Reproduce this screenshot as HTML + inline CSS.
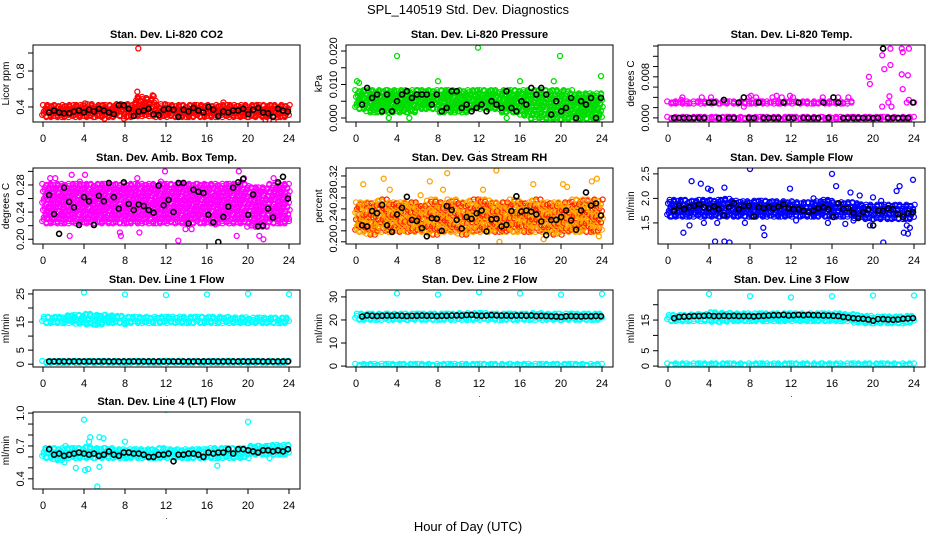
<!DOCTYPE html>
<html><head><meta charset="utf-8"><style>
html,body{margin:0;padding:0;background:#fff}
svg{display:block;font-family:"Liberation Sans",Arial,sans-serif}
</style></head><body>
<svg id="chart" width="936" height="540" viewBox="0 0 936 540">
<text x="468" y="14" text-anchor="middle" font-size="13">SPL_140519  Std. Dev. Diagnostics</text>
<text x="468" y="531" text-anchor="middle" font-size="13">Hour of Day (UTC)</text>
</svg>
<script>
// ---- data (hours 0..23 cloud bands, outliers [hour,value], black hourly means) ----
const co2BandLo=[0.30,0.30,0.30,0.30,0.30,0.30,0.30,0.31,0.30,0.31,0.31,0.30,0.30,0.30,0.30,0.30,0.30,0.30,0.30,0.30,0.30,0.30,0.30,0.30];
const co2BandHi=[0.41,0.41,0.41,0.41,0.42,0.41,0.41,0.42,0.42,0.50,0.48,0.42,0.41,0.41,0.41,0.41,0.41,0.41,0.41,0.41,0.41,0.41,0.41,0.41];
const co2Out=[[9.3,1.05],[9.2,0.57],[10.7,0.53],[10.8,0.52],[6,0.27],[22.5,0.25],[21.7,0.26],[17.6,0.45],[4.1,0.44],[7.9,0.27]];
const co2Blk=[0.34,0.36,0.34,0.33,0.33,0.35,0.36,0.34,0.37,0.35,0.38,0.36,0.34,0.32,0.42,0.42,0.38,0.30,0.35,0.36,0.38,0.32,0.31,0.37,0.38,0.37,0.29,0.37,0.35,0.39,0.36,0.34,0.40,0.37,0.30,0.35,0.34,0.36,0.36,0.38,0.32,0.37,0.39,0.34,0.33,0.29,0.38,0.36,0.35];

const presBandLo=[0.003,0.002,0.002,0.002,0.002,0.002,0.003,0.003,0.002,0.002,0.002,0.003,0.003,0.003,0.002,0.002,0.001,0,0,0,0,0,0,0];
const presBandHi=[0.008,0.008,0.008,0.008,0.008,0.008,0.008,0.008,0.008,0.008,0.008,0.008,0.008,0.008,0.008,0.008,0.008,0.008,0.008,0.008,0.008,0.007,0.007,0.007];
const presOut=[[0.1,0.011],[0.3,0.0105],[4,0.0185],[8,0.011],[11.9,0.021],[16,0.011],[19.3,0.011],[19.9,0.0185],[23.9,0.0125],[3.2,0],[5.2,0],[14.7,0]];
const presBlk=[0.004,0.009,0.006,0.007,0.002,0.007,0.002,0.005,0.007,0.008,0.006,0.007,0.007,0.007,0.004,0.007,0.002,0.003,0.008,0.008,0.003,0.004,0.002,0.003,0.004,0.002,0.005,0.004,0.003,0.008,0.003,0.002,0.005,0.004,0.009,0.007,0.009,0.007,0.001,0.005,0.002,0.003,0.006,0,0.005,0.004,0.006,0,0.006];

const tempBandLo=[0,0,0,0,0,0,0,0,0,0,0,0,0,0,0,0,0,0,0,0,0,0,0,0];
const tempBandHi=[0,0,0,0,0,0,0,0,0,0,0,0,0,0,0,0,0,0,0,0,0,0,0,0];
const tempBand2=[0.003,0.003,0.003,0.003,0.003,0.003,0.003,0.003,0.003,0.003,0.003,0.003,0.003,0.003,0.003,0.003,0.003,0.003,null,null,null,null,null,null];
const tempOut=[[0.5,0.003],[1.3,0.0035],[1.4,0.004],[3.3,0.004],[4.2,0.004],[7.4,0.0022],[7.9,0.004],[8.1,0.0043],[8.6,0.004],[10.2,0.004],[10.6,0.0043],[11.1,0.004],[11.9,0.0043],[12.2,0.004],[15.1,0.004],[16.6,0.004],[17.6,0.004],[19.6,0.008],[19.7,0.0066],[20.9,0.0122],[20.9,0.0022],[21.1,0.0095],[21.5,0.003],[21.6,0.0042],[21.7,0.0135],[21.7,0.0103],[21.8,0.0022],[22.8,0.0135],[22.9,0.0128],[22.8,0.0085],[22.9,0.0056],[23.3,0.003],[23.4,0.0083],[23.5,0.0135],[23.5,0.0035],[24,0.003]];
const tempBlk=[0,0,0,0,0,0,0,0.003,0.003,0,0.0035,0,0,0.003,0.004,0,0,0.003,0,0,0,0,0.003,0,0,0.003,0,0,0,0,0.003,0,0.004,0.003,0,0,0,0,0,0,0,0,0.0135,0,0,0,0,0,0.003];

const ambBandLo=[0.225,0.225,0.225,0.225,0.225,0.225,0.225,0.225,0.225,0.225,0.225,0.225,0.225,0.225,0.225,0.225,0.225,0.225,0.225,0.225,0.22,0.22,0.225,0.225];
const ambBandHi=[0.28,0.28,0.28,0.28,0.28,0.28,0.28,0.28,0.28,0.28,0.28,0.28,0.28,0.28,0.28,0.28,0.28,0.28,0.28,0.28,0.275,0.275,0.28,0.28];
const ambOut=[[0.7,0.29],[1.2,0.29],[2.6,0.205],[2.8,0.295],[4.1,0.295],[7.5,0.21],[7.6,0.205],[9.4,0.21],[9.2,0.29],[11.9,0.30],[13.2,0.198],[13.9,0.215],[14.5,0.215],[18.9,0.205],[19.1,0.30],[19.6,0.29],[21.1,0.205],[21.5,0.20],[22.5,0.29],[24,0.23],[11.5,0.285],[3.6,0.285],[0.4,0.23],[6.5,0.23],[16.8,0.222]];
const ambBlk=[0.265,0.237,0.208,0.276,0.255,0.247,0.221,0.262,0.256,0.221,0.264,0.256,0.283,0.262,0.245,0.284,0.252,0.243,0.251,0.249,0.243,0.239,0.279,0.25,0.258,0.24,0.283,0.283,0.223,0.273,0.27,0.268,0.236,0.225,0.196,0.233,0.248,0.276,0.284,0.289,0.236,0.266,0.219,0.22,0.245,0.232,0.284,0.292,0.26];

const rhBandLo=[0.22,0.215,0.22,0.22,0.22,0.22,0.22,0.215,0.22,0.22,0.215,0.22,0.22,0.22,0.22,0.22,0.22,0.22,0.22,0.215,0.22,0.22,0.22,0.22];
const rhBandHi=[0.27,0.27,0.275,0.27,0.27,0.27,0.265,0.275,0.27,0.275,0.27,0.275,0.275,0.27,0.27,0.275,0.27,0.275,0.27,0.27,0.27,0.275,0.275,0.275];
const rhOut=[[0.7,0.305],[2.7,0.315],[7.2,0.31],[8.9,0.325],[13.7,0.33],[14,0.2],[17.3,0.305],[18.3,0.205],[20.2,0.305],[20.6,0.3],[23,0.31],[23.5,0.315],[23.7,0.21],[8.5,0.295],[3.3,0.295],[12.4,0.295],[6.3,0.285]];
const rhBlk=[0.23,0.228,0.256,0.252,0.267,0.23,0.218,0.25,0.262,0.282,0.24,0.238,0.225,0.21,0.243,0.242,0.22,0.265,0.258,0.24,0.224,0.245,0.242,0.252,0.257,0.219,0.241,0.242,0.228,0.231,0.256,0.283,0.255,0.257,0.255,0.25,0.237,0.212,0.24,0.24,0.245,0.257,0.239,0.222,0.257,0.29,0.266,0.27,0.248];

const flowBandLo=[1.65,1.65,1.65,1.65,1.65,1.65,1.65,1.65,1.65,1.65,1.65,1.65,1.65,1.65,1.65,1.65,1.65,1.65,1.62,1.6,1.6,1.6,1.6,1.6];
const flowBandHi=[1.95,1.95,1.93,1.95,1.95,1.97,1.93,1.92,1.93,1.93,1.92,1.92,1.9,1.9,1.92,1.95,1.9,1.9,1.88,1.85,1.85,1.85,1.85,1.85];
const flowOut=[[0.2,1.63],[1.5,1.3],[2.1,1.45],[2.3,2.35],[3.2,2.3],[3.9,2.2],[4.2,2.17],[4.6,1.12],[4.8,1.5],[5.5,2.22],[5.5,1.12],[6,1.1],[7.5,1.5],[8,2.6],[9.3,1.4],[9.4,1.25],[11.9,2.2],[12.5,1.55],[14.2,2.0],[15.6,1.5],[16,2.5],[16.4,2.25],[17.3,1.48],[17.8,2.12],[18.1,1.55],[18.7,2.06],[19.7,1.45],[20,2.02],[20.8,1.95],[21,1.1],[22.3,2.15],[22.6,2.25],[23,1.3],[23.3,1.45],[23.4,1.28],[23.6,1.4],[23.9,2.38],[3.5,1.5]];
const flowBlk=[1.75,1.85,1.78,1.82,1.85,1.88,1.82,1.80,1.84,1.78,1.65,1.82,1.9,1.78,1.85,1.85,1.63,1.82,1.8,1.82,1.8,1.83,1.88,1.80,1.78,1.78,1.75,1.72,1.75,1.80,1.82,1.78,1.62,1.9,1.78,1.8,1.7,1.6,1.72,1.78,1.45,1.75,1.74,1.8,1.78,1.68,1.62,1.7,1.72];

const l1BandLo=[15,15,15,14.8,14.5,14.5,15,15,15,15,15,15,15,15,15,15,15,15,15,15,15,15,15,15];
const l1BandHi=[16.5,16.5,17,17.2,17.5,17.2,17,16.8,16.5,16.5,16.5,16.5,16.5,16.5,16.5,16.5,16.5,16.5,16.3,16.3,16.2,16.2,16.2,16.2];
const l1Band2=[0.8,0.8,0.8,0.8,0.8,0.8,0.8,0.8,0.8,0.8,0.8,0.8,0.8,0.8,0.8,0.8,0.8,0.8,0.8,0.8,0.8,0.8,0.8,0.8];
const l1Out=[[4,25.5],[8,24.8],[12,24.6],[16,24.8],[20,25],[24,24.9],[5.2,14],[8,14.2]];
const l1Blk=[1,1,1,1,1,1,1,1,1,1,1,1,1,1,1,1,1,1,1,1,1,1,1,1,1,1,1,1,1,1,1,1,1,1,1,1,1,1,1,1,1,1,1,1,1,1,1,1,1];

const l2BandLo=[20.5,20.5,20.5,20.5,20.5,20.5,20.5,20.5,20.5,20.5,20.5,20.5,20.5,20.5,20.5,20.5,20.5,20.5,20.5,20.5,20.5,20.5,20.5,20.5];
const l2BandHi=[22.3,22.3,22.3,22.3,22.3,22.3,22.3,22.3,22.3,22.3,22.5,22.5,22.5,22.3,22.3,22.3,22.3,22.5,22.3,22.3,22.3,22.3,22.3,22.3];
const l2Band2=[0.5,0.5,0.5,0.5,0.5,0.5,0.5,0.5,0.5,0.5,0.5,0.5,0.5,0.5,0.5,0.5,0.5,0.5,0.5,0.5,0.5,0.5,0.5,0.5];
const l2Out=[[4,31.5],[8,31],[12,32],[16,31.5],[20,31],[24,31.3]];
const l2Blk=[21.5,22,21.8,21.7,21.8,21.9,21.8,21.9,21.8,21.7,21.8,21.8,21.9,21.8,21.8,21.7,21.8,21.8,21.9,22,21.9,22.1,22.2,22,21.8,21.9,22.1,22,21.9,21.9,21.8,21.9,21.9,21.8,22,21.7,21.8,21.7,21.6,21.5,21.3,21.6,21.7,21.6,21.5,21.6,21.6,21.7,21.6];

const l3BandLo=[15,15,15,15,14.8,14.8,15,15,15,15,15,15,15,15,15,15,15,15,14.5,14.3,14.3,14.3,14.3,14.5];
const l3BandHi=[16.3,16.3,16.5,16.6,17.2,17,16.8,16.8,16.8,16.8,16.8,16.8,16.8,16.8,16.8,16.8,16.8,16.6,16.3,16,15.8,15.8,15.8,16];
const l3Band2=[0.5,0.5,0.5,0.5,0.5,0.5,0.5,0.5,0.5,0.5,0.5,0.5,0.5,0.5,0.5,0.5,0.5,0.5,0.5,0.5,0.5,0.5,0.5,0.5];
const l3Out=[[4,23.5],[8,22.8],[12,22.4],[16,22.8],[20,23],[24,23]];
const l3Blk=[15.6,16,16.1,16.2,16.3,16.3,16.4,16.5,16.3,16.3,16.4,16.3,16.4,16.3,16.3,16.3,16.2,16.3,16.4,16.5,16.6,16.6,16.7,16.5,16.6,16.7,16.6,16.7,16.6,16.6,16.5,16.5,16.4,16.3,16,15.8,15.6,15.5,15.4,15.2,14.8,15.3,15.3,15.2,15.1,15.2,15.4,15.5,15.6];

const l4BandLo=[0.6,0.58,0.6,0.6,0.6,0.6,0.6,0.6,0.6,0.6,0.6,0.6,0.6,0.6,0.6,0.6,0.6,0.6,0.6,0.6,0.63,0.63,0.63,0.63];
const l4BandHi=[0.67,0.67,0.67,0.67,0.68,0.67,0.67,0.66,0.66,0.66,0.66,0.67,0.66,0.66,0.66,0.66,0.67,0.67,0.67,0.67,0.69,0.69,0.7,0.7];
const l4Out=[[4,0.94],[4.6,0.78],[4.5,0.74],[5.5,0.78],[5.9,0.77],[5.3,0.33],[3.2,0.5],[4.1,0.48],[4.4,0.49],[5.5,0.51],[8,0.74],[12,1.03],[20,0.92],[17,0.52],[2.2,0.7],[22.1,0.59],[2.1,0.55]];
const l4Blk=[0.67,0.62,0.63,0.61,0.62,0.63,0.64,0.63,0.62,0.63,0.61,0.62,0.65,0.62,0.61,0.64,0.64,0.63,0.63,0.62,0.60,0.60,0.62,0.62,0.63,0.56,0.62,0.62,0.63,0.63,0.62,0.60,0.64,0.63,0.64,0.64,0.67,0.63,0.67,0.67,0.66,0.65,0.64,0.66,0.66,0.65,0.66,0.65,0.67];

const xTicks=[0,4,8,12,16,20,24];

// ---- layout ----
const NS='http://www.w3.org/2000/svg';
const svg=document.getElementById('chart');
const colX0=[43,356,668];
const rowTop=[45,168,290,412], rowBot=[122,244,367,489];
function mk(tag,attrs,parent){const e=document.createElementNS(NS,tag);for(const k in attrs)e.setAttribute(k,attrs[k]);(parent||svg).appendChild(e);return e;}

const panels=[
 {key:'co2',title:'Stan. Dev. Li-820 CO2',yl:'Licor ppm',r:0,c:0,ymin:0.233,ymax:1.089,ticks:[0.4,0.6,0.8,1.0],labels:['0.4','','0.8',''],col:'#ff0000',bands:[[co2BandLo,co2BandHi]],out:co2Out,blk:co2Blk},
 {key:'pressure',title:'Stan. Dev. Li-820 Pressure',yl:'kPa',r:0,c:1,ymin:-0.0012,ymax:0.0218,ticks:[0,0.005,0.01,0.015,0.02],labels:['0.000','','0.010','','0.020'],col:'#00dd00',bands:[[presBandLo,presBandHi]],out:presOut,blk:presBlk},
 {key:'temp',title:'Stan. Dev. Li-820 Temp.',yl:'degrees C',r:0,c:2,ymin:-0.0008,ymax:0.0142,ticks:[0,0.002,0.004,0.006,0.008,0.01,0.012,0.014],labels:['0.000','','','','0.008','','',''],col:'#ff00ff',bands:[[tempBandLo,tempBandHi],[tempBand2,tempBand2]],out:tempOut,blk:tempBlk},
 {key:'amb',title:'Stan. Dev. Amb. Box Temp.',yl:'degrees C',r:1,c:0,ymin:0.193,ymax:0.305,ticks:[0.2,0.22,0.24,0.26,0.28,0.3],labels:['0.20','','0.24','','0.28',''],col:'#ff00ff',bands:[[ambBandLo,ambBandHi]],out:ambOut,blk:ambBlk},
 {key:'rh',title:'Stan. Dev. Gas Stream RH',yl:'percent',r:1,c:1,ymin:0.196,ymax:0.3345,ticks:[0.2,0.22,0.24,0.26,0.28,0.3,0.32],labels:['0.20','','0.24','','0.28','','0.32'],col:'#ffa500',col2:'#ff2000',bands:[[rhBandLo,rhBandHi]],out:rhOut,blk:rhBlk},
 {key:'sample-flow',title:'Stan. Dev. Sample Flow',yl:'ml/min',r:1,c:2,ymin:1.07,ymax:2.62,ticks:[1.5,2.0,2.5],labels:['1.5','2.0','2.5'],col:'#0000ff',bands:[[flowBandLo,flowBandHi]],out:flowOut,blk:flowBlk},
 {key:'line1',title:'Stan. Dev. Line 1 Flow',yl:'ml/min',r:2,c:0,ymin:-1,ymax:26.4,ticks:[0,5,10,15,20,25],labels:['0','5','','15','','25'],col:'#00ffff',bands:[[l1BandLo,l1BandHi],[l1Band2,l1Band2]],out:l1Out,blk:l1Blk},
 {key:'line2',title:'Stan. Dev. Line 2 Flow',yl:'ml/min',r:2,c:1,ymin:-0.4,ymax:33,ticks:[0,10,20,30],labels:['0','10','20','30'],col:'#00ffff',bands:[[l2BandLo,l2BandHi],[l2Band2,l2Band2]],out:l2Out,blk:l2Blk},
 {key:'line3',title:'Stan. Dev. Line 3 Flow',yl:'ml/min',r:2,c:2,ymin:-0.3,ymax:24.8,ticks:[0,5,10,15,20],labels:['0','5','','15',''],col:'#00ffff',bands:[[l3BandLo,l3BandHi],[l3Band2,l3Band2]],out:l3Out,blk:l3Blk},
 {key:'line4',title:'Stan. Dev. Line 4 (LT) Flow',yl:'ml/min',r:3,c:0,ymin:0.307,ymax:1.01,ticks:[0.4,0.5,0.6,0.7,0.8,0.9,1.0],labels:['0.4','','','0.7','','','1.0'],col:'#00ffff',bands:[[l4BandLo,l4BandHi]],out:l4Out,blk:l4Blk}
];

function circle(g,x,y,col,name,sw){
  const c=mk('circle',{cx:x.toFixed(1),cy:y.toFixed(1),r:2.5,fill:'none',stroke:col,'stroke-width':sw||1.3},g);
  
  
}

panels.forEach(p=>{
  const x0=colX0[p.c], top=rowTop[p.r], bot=rowBot[p.r];
  const L=x0-10, R=x0+257;
  const xs=h=>x0+h*(246/24);
  const ys=v=>bot-(v-p.ymin)/(p.ymax-p.ymin)*(bot-top);
  const g=mk('g',{});
  
  
  const t=mk('text',{x:(L+R)/2,y:top-7,'text-anchor':'middle','font-size':11,'font-weight':'bold'},g);
  t.textContent=p.title;
  
  
  const clip=mk('clipPath',{id:'clip-'+p.key},g);
  mk('rect',{x:L,y:top,width:R-L,height:bot-top},clip);
  const pts=mk('g',{'clip-path':'url(#clip-'+p.key+')'},g);
  
  
  // cloud bands (textured columns of open circles)
  p.bands.forEach(([lo,hi])=>{
    for(let i=0;i<lo.length;i++){
      if(lo[i]===null||lo[i]===undefined)continue;
      const yTop=ys(hi[i]), yBot=ys(lo[i]);
      const n=Math.max(1,Math.round((yBot-yTop)/3.6)+1);
      for(let k=0;k<6;k++){
        const hx=i+k/6+0.08;
        for(let j=0;j<n;j++){
          const yy=n===1?yBot:yBot-(yBot-yTop)*j/(n-1);
          const dx=((j*7+k*3+i)%5-2)*0.8, dy=((j*3+k*5+i)%3-1)*1.1;
          circle(pts,xs(hx)+dx,yy+dy,(p.col2&&((j+k+i)%3===0))?p.col2:p.col,'cloud-point',1.2);
        }
      }
    }
  });
  p.out.forEach(([h,v])=>circle(pts,xs(h),ys(v),p.col,'outlier-point',1.3));
  p.blk.forEach((v,i)=>circle(pts,xs(0.6+i*23.3/(p.blk.length-1)),ys(v),'#000','hourly-mean-point',1.6));
  // box
  const box=mk('rect',{x:L,y:top,width:R-L,height:bot-top,fill:'none',stroke:'#000','stroke-width':1},g);
  
  
  // x axis
  xTicks.forEach(v=>{
    mk('line',{x1:xs(v),x2:xs(v),y1:bot,y2:bot+5,stroke:'#000'},g);
    const tl=mk('text',{x:xs(v),y:bot+20,'text-anchor':'middle','font-size':11},g);
    tl.textContent=v;
    
    
  });
  mk('line',{x1:xs(0),x2:xs(24),y1:bot,y2:bot,stroke:'#000'},g);
  const dot=mk('text',{x:(L+R)/2,y:bot+30,'text-anchor':'middle','font-size':8},g);
  dot.textContent='.';
  
  
  // y axis
  p.ticks.forEach((v,i)=>{
    const y=ys(v);
    mk('line',{x1:L-5,x2:L,y1:y,y2:y,stroke:'#000'},g);
    if(p.labels[i]){
      const tl=mk('text',{x:L-9,y:y,'text-anchor':'middle','font-size':11,transform:`rotate(-90 ${L-9} ${y})`},g);
      tl.textContent=p.labels[i];
      
      
    }
  });
  mk('line',{x1:L,x2:L,y1:ys(p.ticks[0]),y2:ys(p.ticks[p.ticks.length-1]),stroke:'#000'},g);
  const yl=mk('text',{x:L-24,y:(top+bot)/2,'text-anchor':'middle','font-size':10,transform:`rotate(-90 ${L-24} ${(top+bot)/2})`},g);
  yl.textContent=p.yl;
  
  
});
</script>
</body></html>
